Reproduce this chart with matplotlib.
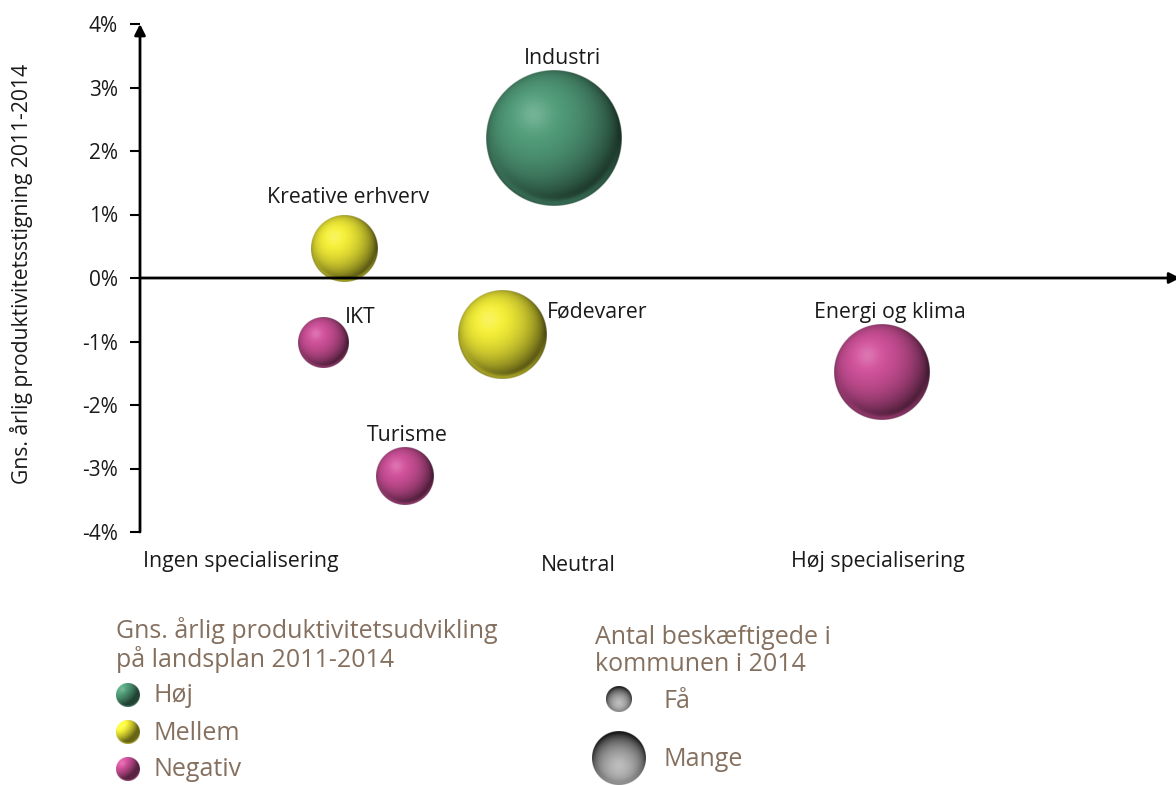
import numpy as np
import matplotlib
matplotlib.use("Agg")
import matplotlib.pyplot as plt

plt.rcParams['font.family'] = ['Open Sans', 'DejaVu Sans']

# ---------------- data ----------------
categories = ["Industri", "Kreative erhverv", "IKT", "Fødevarer", "Turisme", "Energi og klima"]
specialisering = [4.00, 1.97, 1.77, 3.49, 2.56, 7.16]          # x (position on specialisation scale)
produktivitet = [2.20, 0.46, -1.02, -0.90, -3.12, -1.48]        # y (% per year)
beskaeftigede = [46.2, 10.9, 6.3, 19.4, 8.4, 23.0]              # relative employment (bubble area)
gruppe = ["Høj", "Mellem", "Negativ", "Mellem", "Negativ", "Negativ"]

x_cat_labels = ["Ingen specialisering", "Neutral", "Høj specialisering"]
x_cat_pos = [0.97, 4.23, 7.12]
y_ticks = [-4, -3, -2, -1, 0, 1, 2, 3, 4]

group_names = ["Høj", "Mellem", "Negativ"]
group_colors = {"Høj": (0.30, 0.58, 0.45), "Mellem": (0.90, 0.88, 0.20), "Negativ": (0.77, 0.30, 0.57)}

size_legend_labels = ["Få", "Mange"]

# label offsets in pixels (dx right, dy up) relative to bubble centre
label_offsets = {"Industri": (8, 80), "Kreative erhverv": (4, 51), "IKT": (37, 25),
                 "Fødevarer": (96, 23), "Turisme": (2, 41), "Energi og klima": (8, 59)}

TEXT = "#1a1a1a"
BROWN = "#85705f"


def sphere_rgba(base, light=(-0.3, 0.35, 0.9), n=300, spec_pos=(-0.3, 0.35),
                spec_w=0.05, spec_amt=0.4, rim_amt=0.5, amb=0.35, dk=0.75, gamma=1.0):
    lin = np.linspace(-1, 1, n)
    X, Y = np.meshgrid(lin, -lin)
    R2 = X ** 2 + Y ** 2
    R = np.sqrt(R2)
    Z = np.sqrt(np.clip(1 - R2, 0, 1))
    L = np.array(light, float)
    L /= np.linalg.norm(L)
    diff = np.clip(X * L[0] + Y * L[1] + Z * L[2], 0, 1) ** gamma
    base = np.array(base, float)
    col = base[None, None, :] * (amb + dk * diff)[..., None]
    light_col = base + (1 - base) * 0.5
    spec = spec_amt * np.exp(-((X - spec_pos[0]) ** 2 + (Y - spec_pos[1]) ** 2) / spec_w)
    col = col * (1 - spec[..., None]) + light_col[None, None, :] * spec[..., None]
    rim = rim_amt * np.clip(-Y, 0, 1) * np.exp(-((R - 0.96) ** 2) / 0.004)
    col = col * (1 - rim[..., None]) + np.clip(base * 1.1, 0, 1)[None, None, :] * rim[..., None]
    col = np.clip(col, 0, 1)
    alpha = np.clip((1 - R) * n / 2 + 0.5, 0, 1)
    return np.dstack([col, alpha])


W, H = 1176, 785
fig = plt.figure(figsize=(W / 100, H / 100), dpi=100)
ax = fig.add_axes([140 / W, (H - 532) / H, 1 - 140 / W, (532 - 24) / H])
ax.set_xlim(0, 10)
ax.set_ylim(-4, 4)
ax.set_autoscale_on(False)
for s in ax.spines.values():
    s.set_visible(False)

ax.set_xticks([])
ax.set_yticks(y_ticks)
ax.set_yticklabels([f"{v}%" for v in y_ticks])
ax.tick_params(axis='y', length=7, width=1.5, pad=9, labelsize=15, labelcolor=TEXT)

# axes with arrows
ax.annotate('', xy=(0, 4), xytext=(0, -4),
            arrowprops=dict(arrowstyle='-|>', lw=2, color='black', shrinkA=0, shrinkB=0,
                            mutation_scale=16), annotation_clip=False, zorder=5)
ax.annotate('', xy=(10.04, 0), xytext=(0, 0),
            arrowprops=dict(arrowstyle='-|>', lw=2, color='black', shrinkA=0, shrinkB=0,
                            mutation_scale=16), annotation_clip=False, zorder=5)

# bubbles
for name, x, y, sz, g in zip(categories, specialisering, produktivitet, beskaeftigede, gruppe):
    r = 10 * np.sqrt(sz)
    cx, cy = ax.transData.transform((x, y))
    inv = ax.transData.inverted()
    x0, y0 = inv.transform((cx - r, cy - r))
    x1, y1 = inv.transform((cx + r, cy + r))
    ax.imshow(sphere_rgba(group_colors[g]), extent=(x0, x1, y0, y1), aspect='auto',
              interpolation='bilinear', zorder=2)
    dx, dy = label_offsets[name]
    ax.annotate(name, (x, y), xytext=(dx * 0.72, dy * 0.72), textcoords='offset points',
                ha='center', va='center', fontsize=15.3, color=TEXT, zorder=6)

for lab, xp in zip(x_cat_labels, x_cat_pos):
    ax.text(xp, -4.47 if lab != "Neutral" else -4.52, lab, ha='center', va='center',
            fontsize=15.3, color=TEXT, clip_on=False)

fig.text(22 / W, 1 - 274 / H, "Gns. årlig produktivitetsstigning 2011-2014", rotation=90,
         ha='center', va='center', fontsize=15.2, color=TEXT)

# ---------------- legends (overlay axes in pixel coordinates) ----------------
lax = fig.add_axes([0, 0, 1, 1], zorder=-1)
lax.set_xlim(0, W)
lax.set_ylim(H, 0)
lax.axis('off')
lax.set_autoscale_on(False)

lax.text(116, 645, "Gns. årlig produktivitetsudvikling\npå landsplan 2011-2014", ha='left',
         va='center', fontsize=18, color=BROWN, linespacing=1.08)
for i, g in enumerate(group_names):
    cy = 695 + 37 * i
    r = 12
    lax.imshow(sphere_rgba(group_colors[g], light=(-0.6, 0.6, 0.5), spec_pos=(-0.45, 0.45),
                           amb=0.45),
               extent=(128 - r, 128 + r, cy + r, cy - r), aspect='auto', interpolation='bilinear')
    lax.text(153, cy + 1, g, ha='left', va='center', fontsize=18, color=BROWN)

lax.text(595, 651, "Antal beskæftigede i\nkommunen i 2014", ha='left', va='center',
         fontsize=18, color=BROWN, linespacing=1.08)
for lab, cy, r in zip(size_legend_labels, [699, 758], [13, 27]):
    lax.imshow(sphere_rgba((0.62, 0.62, 0.62), light=(0, -0.35, 0.95), spec_pos=(0, -0.25),
                           spec_amt=0.3, amb=0.15, dk=1.0),
               extent=(619 - r, 619 + r, cy + r, cy - r), aspect='auto', interpolation='bilinear')
    lax.text(663, cy + 2, lab, ha='left', va='center', fontsize=18, color=BROWN)

fig.savefig("out.png", dpi=100)
